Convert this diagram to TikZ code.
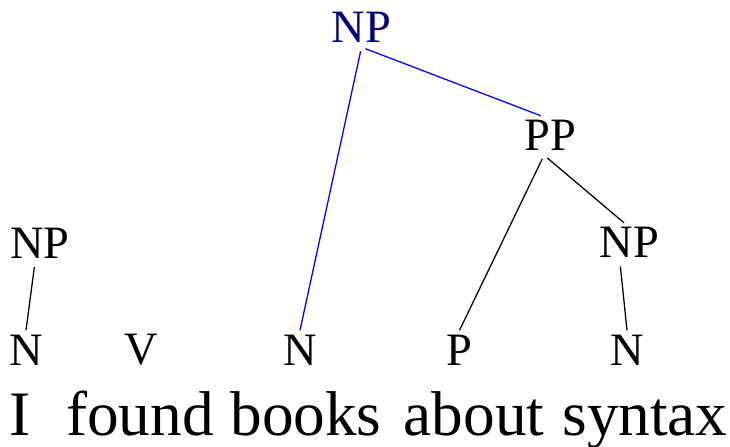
\documentclass[tikz,border=0pt]{standalone}
\usepackage{fontspec}
\setmainfont{Liberation Serif}
\definecolor{npnavy}{HTML}{000080}
\definecolor{npblue}{HTML}{0000FF}
\tikzset{
  % kategorier
  cat/.style={inner sep=3pt,font=\fontsize{33}{40}\selectfont},
  cathi/.style={cat,text=npnavy},
  word/.style={inner sep=0pt,anchor=base,font=\fontsize{45}{54}\selectfont},
  % grenar
  br/.style={draw=black,line width=0.9pt,shorten <=3pt},
  brhi/.style={draw=npblue,line width=0.9pt,shorten <=3pt},
}
\begin{document}
\begin{tikzpicture}[x=0.025cm,y=-0.025cm]
\useasboundingbox (0,0) rectangle (730,447);
  \node[cathi] (np) at (361.5,27.5) {NP};
  \node[cat] (pp) at (550.5,135.5) {PP};
  \node[cat] (npl) at (40,243) {NP};
  \node[cat] (npr) at (629.5,242.5) {NP};
  \node[cat] (n1) at (26,350) {N};
  \node[cat] (v) at (141,350) {V};
  \node[cat] (n2) at (300,350) {N};
  \node[cat] (p) at (459.5,350) {P};
  \node[cat] (n3) at (627,350) {N};
  \node[word] (w1) at (20,435) {I};
  \node[word] (w2) at (140,435) {found};
  \node[word] (w3) at (306,435) {books};
  \node[word] (w4) at (474,435) {about};
  \node[word] (w5) at (645,435) {syntax};
  \draw[brhi] (np.south) -- ([xshift=-6.8pt]pp.north);
  \draw[brhi] (np.south) -- (n2.north);
  \draw[br] ([xshift=-4.6pt]pp.south) -- (p.north);
  \draw[br] ([xshift=-4.6pt]pp.south) -- ([xshift=-3.9pt]npr.north);
  \draw[br] ([xshift=-6.8pt]npr.south) -- (n3.north);
  \draw[br] ([xshift=-3.6pt]npl.south) -- (n1.north);
\end{tikzpicture}
\end{document}
